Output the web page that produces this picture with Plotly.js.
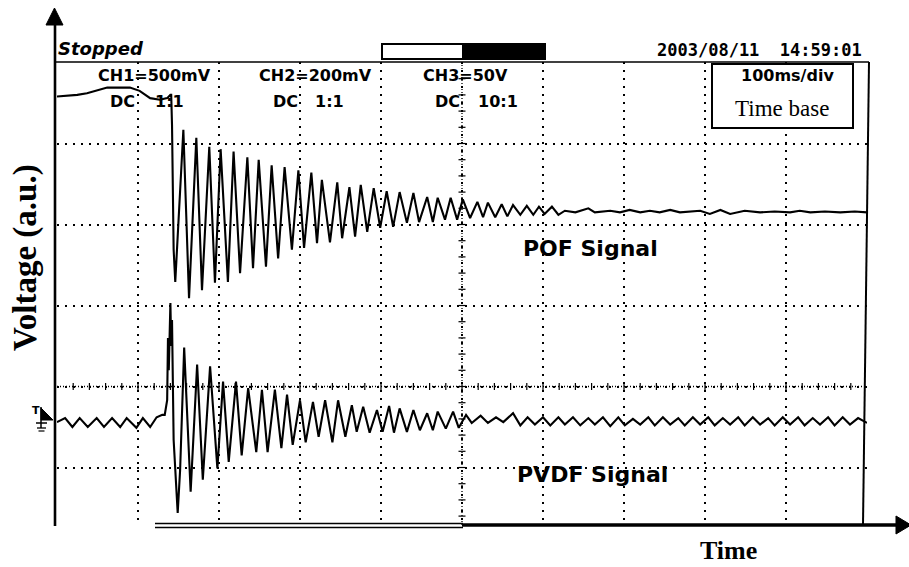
<!DOCTYPE html>
<html><head><meta charset="utf-8">
<script src="https://cdn.plot.ly/plotly-3.0.1.min.js"></script>
<style>html,body{margin:0;padding:0;background:#fff}</style>
</head><body>
<div id="chart" style="width:909px;height:567px"></div>
<script>
// time in ms (100 ms/div), voltage in screen divisions (a.u.)
const pofTime = [0,12,25,37,49,62,75,90,102,115,127,136,140,141,142,143,144,146,156,163,172,179,188,195,202,211,218,226,235,242,249,258,265,273,281,290,298,305,314,321,327,337,346,352,361,368,375,383,391,399,407,415,423,432,440,447,457,464,470,479,486,494,501,510,519,526,532,541,549,556,563,572,580,588,595,602,611,619,627,640,656,664,683,695,707,720,732,744,757,769,794,806,819,831,849,868,886,905,917,930,948,967,985,1000];
const pofVolt = [3.58,3.59,3.60,3.62,3.65,3.69,3.69,3.69,3.65,3.56,3.54,3.56,3.60,3.60,3.23,2.39,1.69,1.29,3.17,1.09,3.07,1.19,2.96,1.28,2.93,1.29,2.90,1.40,2.83,1.46,2.80,1.48,2.73,1.58,2.71,1.69,2.67,1.71,2.64,1.77,2.55,1.78,2.52,1.83,2.46,1.85,2.49,1.91,2.45,1.96,2.41,1.97,2.40,2.02,2.39,2.03,2.34,2.03,2.33,2.06,2.33,2.06,2.31,2.08,2.28,2.09,2.27,2.09,2.25,2.10,2.24,2.12,2.23,2.12,2.22,2.13,2.22,2.12,2.17,2.15,2.20,2.15,2.17,2.15,2.18,2.15,2.17,2.15,2.18,2.15,2.17,2.13,2.18,2.13,2.17,2.15,2.16,2.15,2.17,2.15,2.16,2.15,2.16,2.15];
const pvdfTime = [0,5,10,19,28,38,49,58,68,78,86,98,106,115,123,130,133,136,137,138,139,140,141,142,144,147,149,152,154,157,165,173,180,189,198,205,212,221,228,236,246,253,260,269,277,284,291,300,307,316,323,331,340,347,356,364,370,378,386,395,402,410,416,423,432,440,448,457,464,470,480,489,496,505,512,523,532,542,551,563,572,581,590,600,609,619,627,637,646,656,664,674,683,693,701,711,720,730,738,748,757,767,775,785,794,804,812,822,831,841,849,859,868,878,886,896,905,915,923,933,942,952,960,970,979,989,1000];
const pvdfVolt = [-0.44,-0.41,-0.39,-0.50,-0.39,-0.50,-0.39,-0.50,-0.39,-0.50,-0.39,-0.51,-0.39,-0.50,-0.38,-0.35,-0.35,-0.17,0.60,0.20,0.95,1.03,0.50,0.82,-0.66,-1.28,-1.56,-1.03,-0.41,0.48,-1.30,0.27,-1.15,0.25,-1.01,0.06,-0.93,0.06,-0.85,-0.02,-0.81,-0.04,-0.81,-0.04,-0.76,-0.10,-0.72,-0.17,-0.69,-0.19,-0.62,-0.17,-0.69,-0.17,-0.62,-0.23,-0.56,-0.25,-0.57,-0.29,-0.56,-0.24,-0.57,-0.27,-0.56,-0.29,-0.54,-0.33,-0.54,-0.31,-0.52,-0.31,-0.51,-0.35,-0.45,-0.36,-0.45,-0.38,-0.44,-0.33,-0.48,-0.38,-0.47,-0.38,-0.48,-0.38,-0.47,-0.38,-0.48,-0.39,-0.47,-0.38,-0.49,-0.38,-0.48,-0.40,-0.47,-0.38,-0.48,-0.38,-0.47,-0.39,-0.48,-0.38,-0.47,-0.38,-0.48,-0.39,-0.47,-0.38,-0.48,-0.38,-0.47,-0.39,-0.48,-0.38,-0.47,-0.38,-0.48,-0.39,-0.47,-0.38,-0.48,-0.38,-0.47,-0.39,-0.45];

const channelLabels = ['CH1=500mV','CH2=200mV','CH3=50V'];
const couplingLabels = ['DC','DC','DC'];
const ratioLabels = ['1:1','1:1','10:1'];
const signalLabels = ['POF Signal','PVDF Signal'];

const L=57, R=867, T=62, B=525;
const X = px => (px-L)/(R-L);
const Y = py => (B-py)/(B-T);
const divPx = 81;
const yTop = (386.5-T)/divPx, yBot = (386.5-B)/divPx;

const traces = [
  {x:pofTime, y:pofVolt, type:'scatter', mode:'lines', line:{color:'#000', width:2.1}, hoverinfo:'skip', showlegend:false},
  {x:pvdfTime, y:pvdfVolt, type:'scatter', mode:'lines', line:{color:'#000', width:2.1}, hoverinfo:'skip', showlegend:false}
];

const shapes = [];
// center graticule lines (dense dots + minor ticks)
shapes.push({type:'line', xref:'x', yref:'y', x0:0, x1:1000, y0:0, y1:0, line:{color:'#000', width:1.3, dash:'1px,2px'}, layer:'below'});
shapes.push({type:'line', xref:'x', yref:'y', x0:500, x1:500, y0:yBot, y1:yTop, line:{color:'#000', width:1.3, dash:'1px,2px'}, layer:'below'});
for (let t=20; t<1000; t+=20) {
  shapes.push({type:'line', xref:'x', yref:'y', x0:t, x1:t, y0:-3.5/divPx, y1:3.5/divPx, line:{color:'#000', width:1.2}, layer:'below'});
}
for (let v=-1.6; v<4; v+=0.2) {
  shapes.push({type:'line', xref:'x', yref:'y', x0:500-3.5*100/divPx, x1:500+3.5*100/divPx, y0:v, y1:v, line:{color:'#000', width:1.2}, layer:'below'});
}
const P = (px,py) => X(px).toFixed(5)+','+Y(py).toFixed(5);
// frame
shapes.push({type:'line', xref:'paper', yref:'paper', x0:X(54), x1:X(869), y0:Y(62), y1:Y(62), line:{color:'#000', width:1.6}});
shapes.push({type:'line', xref:'paper', yref:'paper', x0:X(869), x1:X(863), y0:Y(62), y1:Y(525), line:{color:'#000', width:2}});
// vertical axis with arrow
shapes.push({type:'line', xref:'paper', yref:'paper', x0:X(55), x1:X(55), y0:Y(526), y1:Y(20), line:{color:'#000', width:2.6}});
shapes.push({type:'path', xref:'paper', yref:'paper', path:'M'+P(54.5,8)+' L'+P(63,25)+' L'+P(46,25)+' Z', fillcolor:'#000', line:{color:'#000', width:1}});
// horizontal time axis with arrow
shapes.push({type:'line', xref:'paper', yref:'paper', x0:X(155), x1:X(463), y0:Y(523.5), y1:Y(523.5), line:{color:'#000', width:1.5}});
shapes.push({type:'line', xref:'paper', yref:'paper', x0:X(155), x1:X(463), y0:Y(527.5), y1:Y(527.5), line:{color:'#000', width:1.5}});
shapes.push({type:'line', xref:'paper', yref:'paper', x0:X(462), x1:X(900), y0:Y(525), y1:Y(525), line:{color:'#000', width:3.5}});
shapes.push({type:'path', xref:'paper', yref:'paper', path:'M'+P(896,516)+' L'+P(911,525)+' L'+P(896,534)+' Z', fillcolor:'#000', line:{color:'#000', width:1}});
// memory bar
shapes.push({type:'rect', xref:'paper', yref:'paper', x0:X(382), x1:X(545), y0:Y(59), y1:Y(44), fillcolor:'#fff', line:{color:'#000', width:2}});
shapes.push({type:'rect', xref:'paper', yref:'paper', x0:X(463), x1:X(545), y0:Y(59), y1:Y(44), fillcolor:'#000', line:{color:'#000', width:2}});
// time base box
shapes.push({type:'rect', xref:'paper', yref:'paper', x0:X(712), x1:X(853), y0:Y(128), y1:Y(64), fillcolor:'#fff', line:{color:'#000', width:2}, layer:'above'});
// ground marker
shapes.push({type:'path', xref:'paper', yref:'paper', path:'M'+P(41,408)+' L'+P(53,420)+' L'+P(41,420)+' Z', fillcolor:'#000', line:{color:'#000', width:1}});
shapes.push({type:'line', xref:'paper', yref:'paper', x0:X(41), x1:X(41), y0:Y(407), y1:Y(428), line:{color:'#000', width:1.5}});
shapes.push({type:'line', xref:'paper', yref:'paper', x0:X(36), x1:X(47), y0:Y(423), y1:Y(423), line:{color:'#000', width:1.5}});
shapes.push({type:'line', xref:'paper', yref:'paper', x0:X(37), x1:X(46), y0:Y(428), y1:Y(428), line:{color:'#000', width:1.3}});
shapes.push({type:'line', xref:'paper', yref:'paper', x0:X(38.5), x1:X(44.5), y0:Y(431), y1:Y(431), line:{color:'#000', width:1.2}});

const sans = 'DejaVu Sans, sans-serif';
const serif = 'Liberation Serif, Times New Roman, serif';
const ann = (text, px, py, opts) => Object.assign({text:text, xref:'paper', yref:'paper', x:X(px), y:Y(py), xanchor:'left', yanchor:'middle', showarrow:false, borderpad:0, font:{family:sans, size:16, color:'#000', weight:'bold'}}, opts||{});
const annotations = [
  ann('Stopped', 57, 49, {font:{family:sans, size:18, color:'#000', weight:'bold', style:'italic'}}),
  ann('2003/08/11  14:59:01', 863, 50, {xanchor:'right', font:{family:'DejaVu Sans Mono, monospace', size:17, color:'#000', weight:'bold'}}),
  ann(channelLabels[0], 97, 75), ann(couplingLabels[0], 109, 102), ann(ratioLabels[0], 154, 102),
  ann(channelLabels[1], 258, 75), ann(couplingLabels[1], 272, 102), ann(ratioLabels[1], 314, 102),
  ann(channelLabels[2], 422, 75), ann(couplingLabels[2], 434, 102), ann(ratioLabels[2], 477, 102),
  ann('100ms/div', 787, 76, {xanchor:'center'}),
  ann('Time base', 782, 108, {xanchor:'center', font:{family:serif, size:23, color:'#000'}}),
  ann(signalLabels[0], 590, 248, {xanchor:'center', font:{family:sans, size:22, color:'#000', weight:'bold'}}),
  ann(signalLabels[1], 592, 474, {xanchor:'center', font:{family:sans, size:22, color:'#000', weight:'bold'}}),
  ann('T', 36, 410, {xanchor:'center', font:{family:sans, size:11, color:'#000', weight:'bold'}}),
  ann('Time', 728, 550, {xanchor:'center', font:{family:serif, size:26, color:'#000', weight:'bold'}}),
  ann('Voltage (a.u.)', 25, 258, {xanchor:'center', textangle:-90, font:{family:serif, size:33, color:'#000', weight:'bold'}})
];

const layout = {
  width:909, height:567,
  margin:{l:L, r:909-R, t:T, b:567-B, pad:0},
  paper_bgcolor:'#fff', plot_bgcolor:'#fff',
  showlegend:false,
  xaxis:{range:[0,1000], tick0:0, dtick:100, showgrid:true, gridcolor:'#000', gridwidth:2, griddash:'2px,6px', zeroline:false, showline:false, showticklabels:false, ticks:'', fixedrange:true},
  yaxis:{range:[yBot,yTop], tick0:0, dtick:1, showgrid:true, gridcolor:'#000', gridwidth:2, griddash:'2px,6px', zeroline:false, showline:false, showticklabels:false, ticks:'', fixedrange:true},
  shapes:shapes,
  annotations:annotations
};
Plotly.newPlot('chart', traces, layout, {displayModeBar:false, staticPlot:true});
</script>
</body></html>
